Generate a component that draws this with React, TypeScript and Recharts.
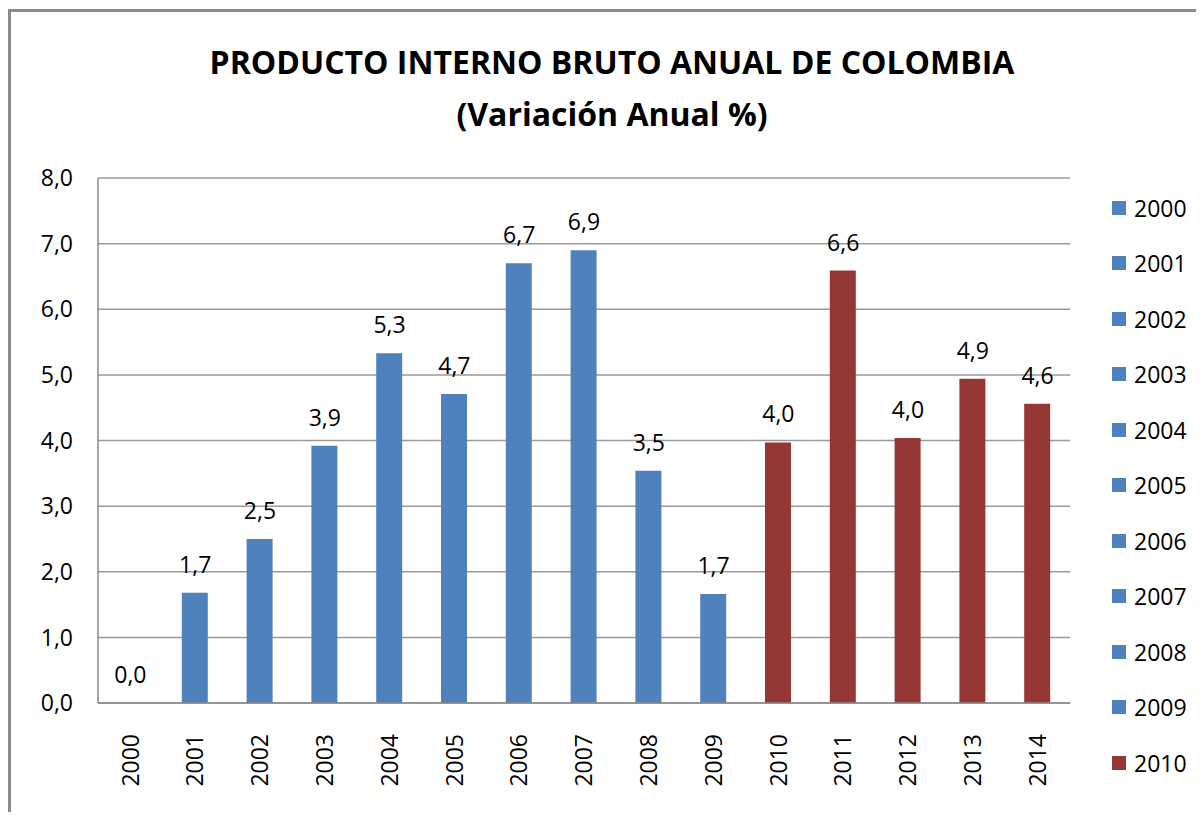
// PIB anual de Colombia - variación anual %

import React from 'react';
import { ComposedChart, Bar, Line, XAxis, YAxis, CartesianGrid, LabelList, Cell } from 'recharts';

const years = ['2000', '2001', '2002', '2003', '2004', '2005', '2006', '2007', '2008', '2009', '2010', '2011', '2012', '2013', '2014'];
const growth = [0.0, 1.68, 2.5, 3.92, 5.33, 4.71, 6.7, 6.9, 3.54, 1.66, 3.97, 6.59, 4.04, 4.94, 4.56];
const yTicks = [0, 1, 2, 3, 4, 5, 6, 7, 8];
const legendYears = ['2000', '2001', '2002', '2003', '2004', '2005', '2006', '2007', '2008', '2009', '2010'];

const BLUE = '#4f81bd';
const RED = '#953735';
const FONT = '"Open Sans", sans-serif';

const data = years.map((y, i) => ({ year: y, value: growth[i] }));

const colorFor = (year: string) => (Number(year) >= 2010 ? RED : BLUE);
const fmt = (v: number) => v.toFixed(1).replace('.', ',');

const XTick = (props: any) => {
  const { x, y, payload } = props;
  return (
    <g transform={`translate(${x},${y})`}>
      <text
        transform="rotate(-90)"
        x={-29}
        y={0}
        dy="0.36em"
        textAnchor="end"
        fill="#000"
        fontSize={23}
        fontFamily={FONT}
      >
        {payload.value}
      </text>
    </g>
  );
};

const LegendBox = () => (
  <div
    style={{
      position: 'absolute',
      left: 1104,
      top: 172,
      fontFamily: FONT,
      fontSize: 23,
      color: '#000',
    }}
  >
    {legendYears.map((y) => (
      <div key={y} style={{ height: 55.5, display: 'flex', alignItems: 'center' }}>
        <span style={{ width: 14, height: 14, background: colorFor(y), display: 'inline-block', marginRight: 8 }} />
        <span>{y}</span>
      </div>
    ))}
  </div>
);

const App = () => {
  return (
    <div style={{ position: 'relative', width: 1188, height: 804, fontFamily: FONT }}>
      <div
        style={{
          position: 'absolute',
          left: 0,
          top: 1,
          width: 1196,
          height: 820,
          borderTop: '3px solid #8a8a8a',
          borderLeft: '3px solid #8a8a8a',
        }}
      />
      <div
        style={{
          position: 'absolute',
          left: 0,
          width: 1208,
          top: 28,
          textAlign: 'center',
          fontWeight: 700,
          fontSize: 32,
          lineHeight: '52px',
          color: '#000',
        }}
      >
        PRODUCTO INTERNO BRUTO ANUAL DE COLOMBIA
        <br />
        (Variación Anual %)
      </div>
      <ComposedChart
        width={1188}
        height={804}
        data={data}
        margin={{ top: 170, right: 126, bottom: 9, left: 0 }}
        style={{ position: 'absolute', left: 0, top: 0 }}
      >
        <CartesianGrid vertical={false} stroke="#9a9a9a" strokeWidth={1.5} />
        <XAxis
          dataKey="year"
          height={100}
          tickLine={false}
          tickSize={0}
          stroke="#8a8a8a"
          strokeWidth={1.5}
          interval={0}
          tick={<XTick />}
        />
        <YAxis
          width={90}
          domain={[0, 8]}
          ticks={yTicks}
          tickLine={false}
          tickSize={0}
          tickMargin={25}
          stroke="#8a8a8a"
          strokeWidth={1.5}
          tickFormatter={fmt}
          tick={{ fill: '#000', fontSize: 23, fontFamily: FONT }}
        />
        <Bar dataKey="value" barSize={26} isAnimationActive={false}>
          {data.map((d) => (
            <Cell key={d.year} fill={colorFor(d.year)} />
          ))}
        </Bar>
        {/* invisible series that only carries the value labels, so the 0,0 label shows too */}
        <Line
          dataKey="value"
          stroke="none"
          dot={false}
          activeDot={false}
          legendType="none"
          isAnimationActive={false}
        >
          <LabelList
            dataKey="value"
            position="top"
            offset={20}
            formatter={(v: any) => fmt(Number(v))}
            style={{ fill: '#000', fontSize: 23, fontFamily: FONT }}
          />
        </Line>
      </ComposedChart>
      <LegendBox />
    </div>
  );
};

export default App;
